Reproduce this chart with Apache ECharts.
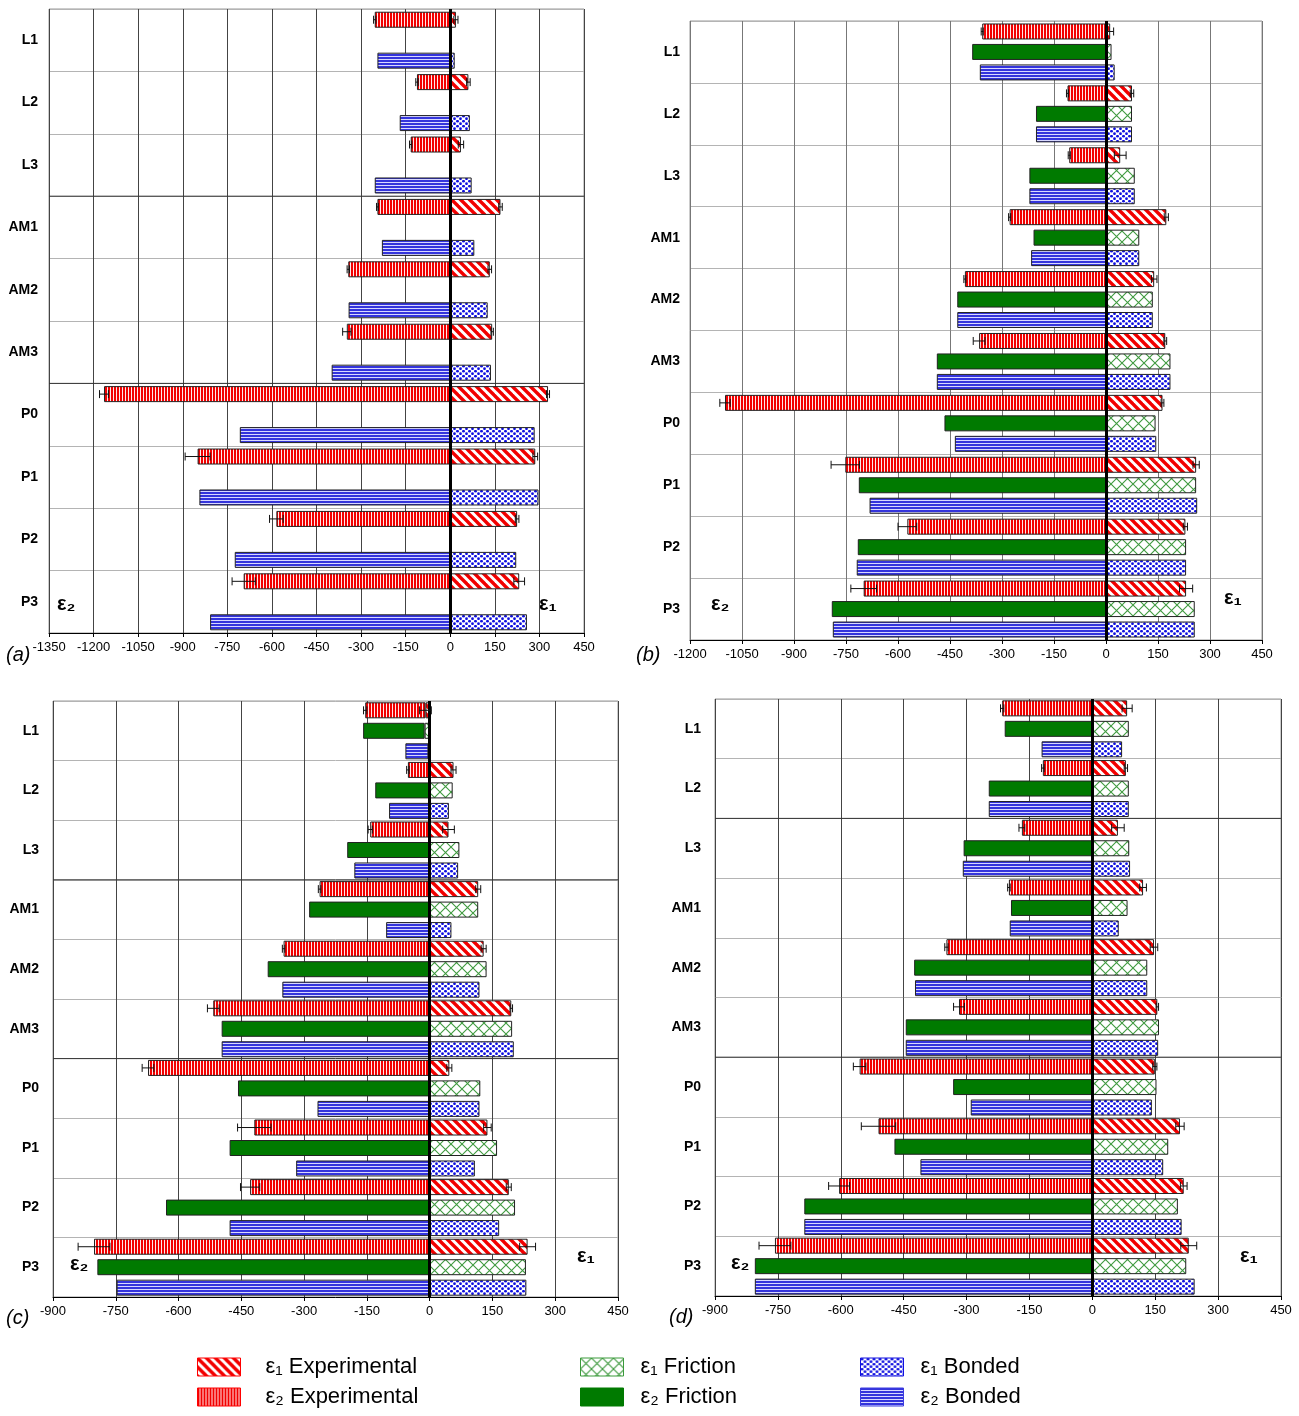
<!DOCTYPE html>
<html><head><meta charset="utf-8">
<script src="https://cdn.jsdelivr.net/npm/echarts@6/dist/echarts.min.js"></script>
<style>html,body{margin:0;padding:0;background:#fff}#c{width:1299px;height:1416px}</style>
</head><body><div id="c"></div><script>
// ---------- DATA ----------
const categories = ['L1','L2','L3','AM1','AM2','AM3','P0','P1','P2','P3'];
const seriesNames = ['ε₁ Experimental','ε₂ Experimental','ε₁ Friction','ε₂ Friction','ε₁ Bonded','ε₂ Bonded'];

// panel (a)
const a_e1_exp     = [19, 61, 36, 169, 133, 141, 329, 286, 225, 232];
const a_e1_exp_err = [7, 6, 9, 6, 6, 4, 5, 8, 6, 18];
const a_e2_exp     = [-254, -112, -133, -245, -343, -348, -1165, -850, -585, -695];
const a_e2_exp_err = [4, 4, 4, 3, 4, 14, 15, 42, 23, 39];
const a_e1_bond    = [15, 66, 72, 81, 126, 137, 284, 297, 222, 258];
const a_e2_bond    = [-245, -170, -254, -230, -342, -399, -708, -844, -725, -808];

// panel (b)
const b_e1_exp     = [12, 75, 41, 174, 139, 171, 163, 260, 229, 231];
const b_e1_exp_err = [10, 5, 17, 6, 8, 4, 4, 9, 6, 19];
const b_e2_exp     = [-357, -111, -106, -278, -407, -366, -1099, -752, -573, -699];
const b_e2_exp_err = [3, 3, 3, 3, 3, 17, 15, 41, 27, 37];
const b_e1_fric    = [16, 75, 83, 96, 135, 186, 143, 260, 231, 256];
const b_e2_fric    = [-386, -202, -221, -209, -429, -488, -466, -713, -716, -791];
const b_e1_bond    = [25, 75, 83, 96, 135, 186, 145, 263, 231, 256];
const b_e2_bond    = [-364, -202, -221, -216, -429, -488, -436, -682, -719, -788];

// panel (c)
const c_e1_exp     = [-10, 57, 45, 116, 129, 195, 47, 138, 189, 234];
const c_e1_exp_err = [14, 6, 14, 6, 6, 3, 6, 9, 6, 19];
const c_e2_exp     = [-144, -52, -142, -263, -349, -517, -673, -419, -429, -802];
const c_e2_exp_err = [4, 3, 5, 3, 3, 14, 14, 40, 23, 38];
const c_e1_fric    = [-12, 55, 71, 116, 136, 197, 121, 161, 204, 230];
const c_e2_fric    = [-147, -130, -197, -288, -387, -497, -458, -478, -630, -794];
const c_e1_bond    = [-3, 46, 68, 52, 119, 201, 119, 108, 166, 231];
const c_e2_bond    = [-55, -97, -180, -104, -352, -497, -268, -319, -478, -748];

// panel (d)
const d_e1_exp     = [83, 80, 61, 121, 147, 155, 149, 209, 218, 230];
const d_e1_exp_err = [12, 4, 15, 8, 9, 3, 5, 10, 8, 19];
const d_e2_exp     = [-215, -118, -168, -199, -348, -318, -555, -510, -604, -757];
const d_e2_exp_err = [4, 3, 7, 3, 4, 13, 15, 41, 25, 38];
const d_e1_fric    = [87, 87, 88, 84, 131, 159, 153, 181, 204, 224];
const d_e2_fric    = [-209, -247, -307, -194, -425, -445, -332, -472, -687, -805];
const d_e1_bond    = [71, 87, 90, 63, 131, 157, 142, 169, 213, 244];
const d_e2_bond    = [-121, -247, -309, -197, -423, -445, -290, -410, -687, -805];

// x-axis ranges and group separators (category index after which a dark line is drawn)
const a_range = [-1350, 450], b_range = [-1200, 450], c_range = [-900, 450], d_range = [-900, 450];
const a_groupBreaks = [2, 5], b_groupBreaks = [], c_groupBreaks = [2, 5], d_groupBreaks = [1, 5];

// ---------- STYLE ----------
const FONT = "'Liberation Sans', Arial, Helvetica, sans-serif";
const BAR_W = 16, GAP_PCT = 0.28;
function pattern(w, h, draw) {
  const c = document.createElement('canvas'); c.width = w; c.height = h;
  const g = c.getContext('2d'); draw(g, w, h);
  return { image: c, repeat: 'repeat' };
}
const FILL = {
  e1Exp: pattern(9, 9, g => { g.fillStyle = '#fff'; g.fillRect(0,0,9,9); g.strokeStyle = '#f20000'; g.lineWidth = 3.4;
    for (const k of [-9, 0, 9]) { g.beginPath(); g.moveTo(k-3, -3); g.lineTo(k+12, 12); g.stroke(); } }),
  e2Exp: pattern(3, 1, g => { g.fillStyle = '#f20000'; g.fillRect(0,0,2,1); g.fillStyle = '#ffe8e8'; g.fillRect(2,0,1,1); }),
  e1Fric: pattern(11, 11, g => { g.fillStyle = '#fff'; g.fillRect(0,0,11,11); g.strokeStyle = '#3f9a3f'; g.lineWidth = 1.1;
    g.beginPath(); g.moveTo(0,0); g.lineTo(11,11); g.moveTo(11,0); g.lineTo(0,11); g.stroke(); }),
  e2Fric: '#007a00',
  e1Bond: pattern(6, 5, g => { g.fillStyle = '#fff'; g.fillRect(0,0,6,5); g.fillStyle = '#1010e0';
    g.beginPath(); g.arc(1.5,1.2,1.4,0,Math.PI*2); g.fill(); g.beginPath(); g.arc(4.5,3.7,1.4,0,Math.PI*2); g.fill(); }),
  e2Bond: pattern(1, 3, g => { g.fillStyle = '#3434dc'; g.fillRect(0,0,1,2); g.fillStyle = '#d8d8ff'; g.fillRect(0,2,1,1); })
};

const panels = [
  { grid: {left: 49, top: 9, width: 535, height: 624}, range: a_range, breaks: a_groupBreaks, labelMargin: 11, vline: '#444',
    e1Exp: a_e1_exp, e1Err: a_e1_exp_err, e2Exp: a_e2_exp, e2Err: a_e2_exp_err,
    e1Fric: categories.map(() => null), e2Fric: categories.map(() => null), e1Bond: a_e1_bond, e2Bond: a_e2_bond },
  { grid: {left: 690, top: 21, width: 572, height: 619}, range: b_range, breaks: b_groupBreaks, labelMargin: 10, vline: '#777',
    e1Exp: b_e1_exp, e1Err: b_e1_exp_err, e2Exp: b_e2_exp, e2Err: b_e2_exp_err,
    e1Fric: b_e1_fric, e2Fric: b_e2_fric, e1Bond: b_e1_bond, e2Bond: b_e2_bond },
  { grid: {left: 53, top: 701, width: 565, height: 596}, range: c_range, breaks: c_groupBreaks, labelMargin: 14, vline: '#444',
    e1Exp: c_e1_exp, e1Err: c_e1_exp_err, e2Exp: c_e2_exp, e2Err: c_e2_exp_err,
    e1Fric: c_e1_fric, e2Fric: c_e2_fric, e1Bond: c_e1_bond, e2Bond: c_e2_bond },
  { grid: {left: 715, top: 699, width: 566, height: 597}, range: d_range, breaks: d_groupBreaks, labelMargin: 14, vline: '#444',
    e1Exp: d_e1_exp, e1Err: d_e1_exp_err, e2Exp: d_e2_exp, e2Err: d_e2_exp_err,
    e1Fric: d_e1_fric, e2Fric: d_e2_fric, e1Bond: d_e1_bond, e2Bond: d_e2_bond }
];

const grids = [], xAxes = [], yAxes = [], series = [];
panels.forEach((p, i) => {
  grids.push(Object.assign({ show: true, borderColor: '#999', borderWidth: 1, backgroundColor: 'transparent', containLabel: false, outerBoundsMode: 'none' }, p.grid));
  xAxes.push({ type: 'value', gridIndex: i, min: p.range[0], max: p.range[1], interval: 150,
    axisLine: { show: true, onZero: false, lineStyle: { color: '#000', width: 1 } },
    axisTick: { show: true, length: 4, lineStyle: { color: '#000' } },
    axisLabel: { color: '#000', fontSize: 13, fontFamily: FONT, margin: 8, formatter: v => String(v) },
    splitLine: { show: true, lineStyle: { color: p.vline, width: 1 } } });
  yAxes.push({ type: 'category', gridIndex: i, data: categories, inverse: true,
    axisLine: { show: false }, axisTick: { show: false },
    axisLabel: { color: '#000', fontSize: 14, fontWeight: 'bold', fontFamily: FONT, margin: p.labelMargin },
    splitLine: { show: true, lineStyle: { color: '#b4b4b4', width: 1 } } });
  const bar = (name, data, stack, color) => ({
    type: 'bar', name, xAxisIndex: i, yAxisIndex: i, stack: stack + i, data,
    barWidth: BAR_W, barGap: (GAP_PCT * 100) + '%', animation: false,
    itemStyle: { color, borderColor: '#222', borderWidth: 1 }, emphasis: { disabled: true }
  });
  const s1 = bar(seriesNames[0], p.e1Exp, 'exp', FILL.e1Exp);
  s1.markLine = { silent: true, symbol: ['none', 'none'], label: { show: false }, animation: false,
    lineStyle: { color: '#000', width: 3, type: 'solid' }, data: [{ xAxis: 0 }] };
  series.push(s1, bar(seriesNames[1], p.e2Exp, 'exp', FILL.e2Exp),
    bar(seriesNames[2], p.e1Fric, 'fric', FILL.e1Fric), bar(seriesNames[3], p.e2Fric, 'fric', FILL.e2Fric),
    bar(seriesNames[4], p.e1Bond, 'bond', FILL.e1Bond), bar(seriesNames[5], p.e2Bond, 'bond', FILL.e2Bond));
  // error bars on experimental bars (centred on the stacked bar ends)
  const errData = [];
  categories.forEach((c, k) => {
    errData.push([p.e1Exp[k], p.e1Err[k], k]);
    errData.push([p.e2Exp[k] + Math.min(p.e1Exp[k], 0), p.e2Err[k], k]);
  });
  series.push({ type: 'custom', xAxisIndex: i, yAxisIndex: i, data: errData, z: 6, silent: true, animation: false,
    encode: { x: 0, y: 2 },
    renderItem: (params, api) => {
      const v = api.value(0), e = api.value(1), k = api.value(2);
      const a = api.coord([v - e, k]), b = api.coord([v + e, k]);
      const y = a[1] - (BAR_W + BAR_W * GAP_PCT);
      const st = { stroke: '#111', lineWidth: 1 };
      return { type: 'group', children: [
        { type: 'line', shape: { x1: a[0], y1: y, x2: b[0], y2: y }, style: st },
        { type: 'line', shape: { x1: a[0], y1: y - 4, x2: a[0], y2: y + 4 }, style: st },
        { type: 'line', shape: { x1: b[0], y1: y - 4, x2: b[0], y2: y + 4 }, style: st }
      ]};
    } });
  // darker group separator lines
  series.push({ type: 'custom', xAxisIndex: i, yAxisIndex: i, data: p.breaks.map(k => [0, k]), z: 1, silent: true, animation: false,
    encode: { x: 0, y: 1 },
    renderItem: (params, api) => {
      const k = api.value(1); const c = api.coord([0, k]); const h = api.size([0, 1])[1];
      const cs = params.coordSys;
      return { type: 'line', shape: { x1: cs.x, y1: c[1] + h / 2, x2: cs.x + cs.width, y2: c[1] + h / 2 },
        style: { stroke: '#333', lineWidth: 1 } };
    } });
});

const epsText = (txt, x, y) => ({ type: 'text', x, y, silent: true,
  style: { text: txt, fontSize: 20, fontWeight: 'bold', fontFamily: FONT, fill: '#000' } });
const letter = (txt, x, y) => ({ type: 'text', x, y, silent: true,
  style: { text: txt, fontSize: 20, fontStyle: 'italic', fontFamily: FONT, fill: '#000' } });

const legendBase = (left, names, borders, pad) => ({
  left, top: 1356, orient: 'vertical', itemWidth: 43, itemHeight: 18, itemGap: 8, selectedMode: false, padding: 0,
  icon: 'rect',
  data: names.map((n, j) => ({ name: n, itemStyle: { borderColor: borders[j], borderWidth: 1 } })),
  textStyle: { fontSize: 22, fontFamily: FONT, color: '#000', padding: [0, 0, 0, pad] }
});

const option = {
  backgroundColor: '#fff', animation: false,
  grid: grids, xAxis: xAxes, yAxis: yAxes, series,
  legend: [
    legendBase(197, [seriesNames[0], seriesNames[1]], ['#f00', '#f00'], 20),
    legendBase(580, [seriesNames[2], seriesNames[3]], ['#3a9a3a', '#007a00'], 12),
    legendBase(860, [seriesNames[4], seriesNames[5]], ['#1010e0', '#3c3ce0'], 12)
  ],
  graphic: [
    epsText('ε₂', 57, 594), epsText('ε₁', 539, 594),
    epsText('ε₂', 711, 594), epsText('ε₁', 1224, 588),
    epsText('ε₂', 70, 1254), epsText('ε₁', 577, 1246),
    epsText('ε₂', 731, 1253), epsText('ε₁', 1240, 1246),
    letter('(a)', 6, 645), letter('(b)', 636, 645), letter('(c)', 6, 1308), letter('(d)', 669, 1307)
  ]
};
const chart = echarts.init(document.getElementById('c'), null, { renderer: 'canvas' });
chart.setOption(option);
</script></body></html>
